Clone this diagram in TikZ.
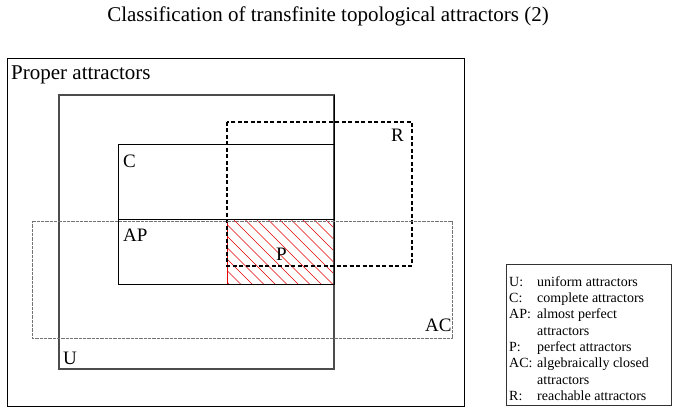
\documentclass[tikz,border=0pt]{standalone}
\usepackage{fontspec}
\setmainfont{Liberation Serif}
\begin{document}
\begin{tikzpicture}[x=1pt,y=-1pt]
\tikzstyle{frame}=[draw=black,line width=0.9pt]
\tikzstyle{ubox}=[draw=black!70,line width=1.3pt]
\tikzstyle{cbox}=[draw=black,line width=1pt]
\tikzstyle{rbox}=[draw=black,line width=1.2pt,dash pattern=on 4pt off 2.5pt]
\tikzstyle{acbox}=[draw=black!55,line width=0.9pt,dash pattern=on 0.7pt off 0.6pt]
\tikzstyle{hatch}=[red!90!black,line width=0.7pt]
\tikzstyle{lbl}=[inner sep=0pt,anchor=base west,font=\fontsize{19}{19}\selectfont]
\tikzstyle{leg}=[inner sep=0pt,anchor=base west,font=\fontsize{14}{14}\selectfont]

\useasboundingbox (0,0) rectangle (678,414);

\node[inner sep=0pt,anchor=base,font=\fontsize{21}{21}\selectfont] (title) at (328,22)
  {Classification of transfinite topological attractors (2)};

% proper attractors
\draw[frame] (7,58) rectangle (464,406);
\node[lbl,font=\fontsize{21}{21}\selectfont] (proper) at (11,80) {Proper attractors};

% P = AP and R, hatched
\begin{scope}
  \clip (227,220) rectangle (334,285);
  \foreach \i in {0,...,15}
    \draw[hatch] (165+11.5*\i,220) -- ++(65,65);
\end{scope}
\draw[hatch,line width=0.9pt] (227,220) -- (227,285);

% U, C, AP
\draw[ubox] (59,95) rectangle (334,369);
\draw[cbox] (118,145) rectangle (334,285);
\draw[cbox] (118,220) -- (334,220);
\draw[cbox] (334,95) -- (334,285);

% R and AC
\draw[rbox] (227,122) rectangle (412,266);
\draw[acbox] (32,221) rectangle (452,338);

\node[lbl] (U) at (63,364) {U};
\node[lbl] (C) at (123,168) {C};
\node[lbl] (AP) at (123,242) {AP};
\node[lbl] (P) at (276,261) {P};
\node[lbl] (R) at (391,142) {R};
\node[lbl] (AC) at (425,332) {AC};

% legend
\draw[frame,draw=black!80] (506,264) rectangle (671,405);
\foreach [count=\k] \abbr/\text in {U:/uniform attractors, C:/complete attractors,
    AP:/almost perfect, /attractors, P:/perfect attractors,
    AC:/algebraically closed, /attractors, R:/reachable attractors} {
  \node[leg] (key\k) at (509,270+16.3*\k) {\abbr};
  \node[leg] (txt\k) at (537,270+16.3*\k) {\text};
}
\end{tikzpicture}
\end{document}
